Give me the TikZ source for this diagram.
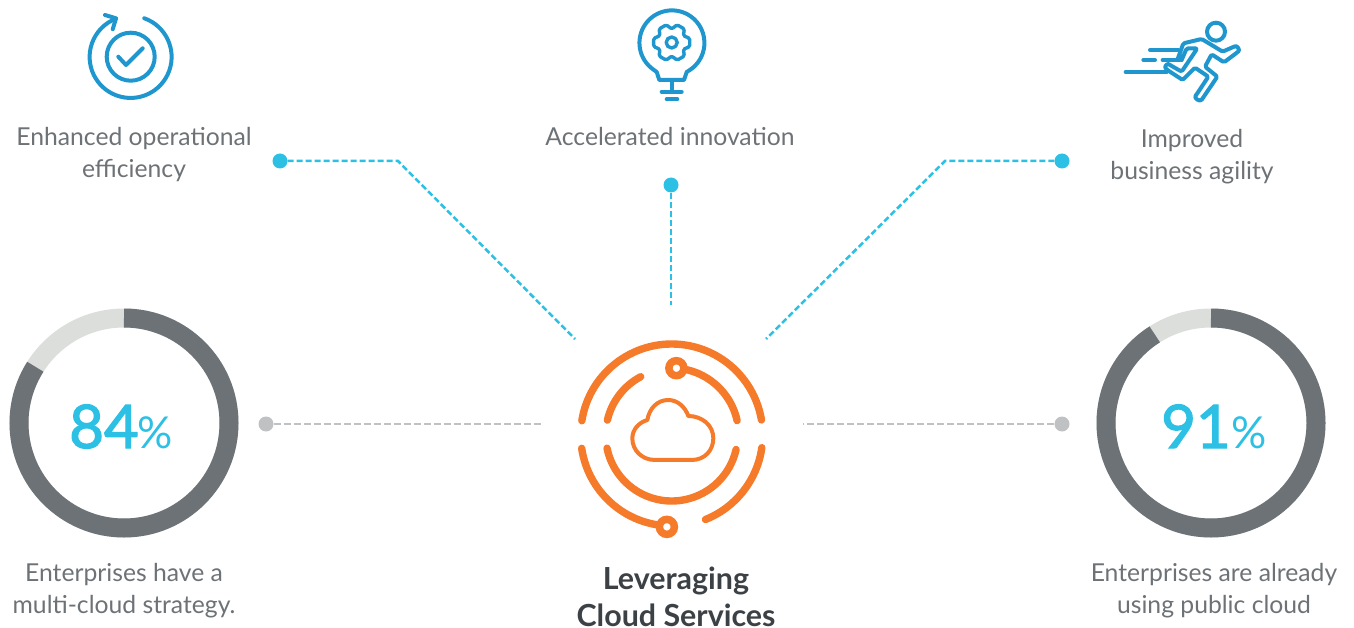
\documentclass[tikz,border=0pt]{standalone}
\usepackage{fontspec}
\setmainfont{Lato}
\newfontfamily\numfont[FakeBold=2]{Lato}
\definecolor{ibl}{HTML}{1F97CE}
\definecolor{cyn}{HTML}{2BC0E4}
\definecolor{org}{HTML}{F57A29}
\definecolor{rgr}{HTML}{6D7276}
\definecolor{rlt}{HTML}{DCDEDC}
\definecolor{dgr}{HTML}{BFC1C3}
\definecolor{txt}{HTML}{6D7276}
\definecolor{ttl}{HTML}{3C4145}
\tikzset{
 x=1pt,y=1pt,
 icon/.style={draw=ibl,line width=4pt,line cap=round,line join=round},
 iconthin/.style={draw=ibl,line width=3.4pt,line cap=round,line join=round},
 cloudline/.style={draw=org,line width=7.4pt,line cap=round},
 lbl/.style={text=txt,font=\fontsize{24.7}{32}\selectfont,align=center,inner sep=0pt},
 ttlb/.style={text=ttl,font=\fontsize{30.4}{37}\selectfont\bfseries,align=center,inner sep=0pt},
 bignum/.style={text=cyn,inner sep=0pt,font=\numfont\fontsize{60}{60}\selectfont},
 pct/.style={text=cyn,inner sep=0pt,font=\fontsize{44}{44}\selectfont},
 dotc/.style={circle,fill=cyn,minimum size=15pt,inner sep=0pt},
 dotg/.style={circle,fill=dgr,minimum size=15pt,inner sep=0pt},
 cdash/.style={draw=cyn,line width=2.5pt,dash pattern=on 6pt off 3pt},
 gdash/.style={draw=dgr,line width=2.5pt,dash pattern=on 7pt off 3pt},
 pcirc/.style={circle,draw=org,line width=7.5pt,fill=white,minimum size=15pt,inner sep=0pt},
}
\begin{document}
\begin{tikzpicture}
\useasboundingbox (0,-628) rectangle (1354,0);
% rings
\draw[rlt,line width=19pt] (124,-423) circle[radius=105];
\draw[rgr,line width=19pt] (124,-318) arc[start angle=90,end angle=-212.4,radius=105];
\draw[rlt,line width=19pt] (1211,-423) circle[radius=105];
\draw[rgr,line width=19pt] (1211,-318) arc[start angle=90,end angle=-237.6,radius=105];
\node[bignum,anchor=base east] (n84) at (139,-448) {84};
\node[pct,anchor=base west] (p84) at (137,-448) {\%};
\node[bignum,anchor=base east] (n91) at (1231,-448) {91};
\node[pct,anchor=base west] (p91) at (1231,-448) {\%};
% labels
\node[lbl] (l1) at (134,-155) {Enhanced operational\\efficiency};
\node[lbl] (l2) at (670,-137) {Accelerated innovation};
\node[lbl] (l3) at (1192,-157) {Improved\\business agility};
\node[lbl] (l4) at (124,-591) {Enterprises have a\\multi-cloud strategy.};
\node[lbl] (l5) at (1214,-591) {Enterprises are already\\using public cloud};
\node[ttlb] (t) at (676,-597) {Leveraging\\Cloud Services};
% connectors
\node[dotc] (d1) at (280,-161) {};
\node[dotc] (d2) at (671,-185) {};
\node[dotc] (d3) at (1062,-161) {};
\node[dotg] (d4) at (266,-424) {};
\node[dotg] (d5) at (1062,-424) {};
\coordinate (e1) at (575,-339);
\coordinate (e2) at (671,-305);
\coordinate (e3) at (766,-339);
\coordinate (e4) at (541,-424);
\coordinate (e5) at (803,-424);
\draw[cdash] (d1) -- (398,-161) -- (e1);
\draw[cdash] (d2) -- (e2);
\draw[cdash] (d3) -- (945,-161) -- (e3);
\draw[gdash] (d4.east) -- (e4);
\draw[gdash] (d5.west) -- (e5);
% cloud icon
\def\cx{671.7}\def\cy{-435}
\begin{scope}[shift={(\cx pt,\cy pt)}]
\draw[cloudline] (171:91) arc[start angle=171,end angle=9.5,radius=91];
\draw[cloudline] (188.4:91) arc[start angle=188.4,end angle=267,radius=91];
\draw[cloudline] (-8:91) arc[start angle=-8,end angle=-68.2,radius=91];
\draw[cloudline] (167:66) arc[start angle=167,end angle=118,radius=66];
\draw[cloudline] (86:67) arc[start angle=86,end angle=12.4,radius=67];
\draw[cloudline] (191.5:66) arc[start angle=191.5,end angle=347.3,radius=66];
\node[pcirc] (pt) at (86:67) {};
\node[pcirc] (pb) at (267:92) {};
\end{scope}
\begin{scope}[shift={(560pt,-330pt)},x=0.3333pt,y=-0.3333pt]
\draw[org,line width=4pt,line join=round]
 (285,390) -- (395,390)
 .. controls (435,390) and (460,360) .. (460,325)
 .. controls (460,285) and (425,258) .. (385,258)
 .. controls (375,230) and (352,210) .. (325,210)
 .. controls (292,210) and (268,235) .. (262,270)
 .. controls (235,278) and (217,300) .. (217,325)
 .. controls (217,362) and (247,390) .. (285,390) -- cycle;
\end{scope}
% check icon
\draw[icon] (144.3,-18.3) arc[start angle=70.5,end angle=-249,radius=41];
\draw[icon] (105,-15) -- (116,-18.3) -- (112.7,-29.3);
\draw[icon] (130.7,-56.7) circle[radius=24];
\draw[icon] (118.3,-56.7) -- (126,-65) -- (142.7,-48.3);
% bulb icon
\draw[icon] (659.3,-80) -- (656.7,-72) -- (653.3,-69.5) arc[start angle=235,end angle=-55,radius=32.5] -- (686.7,-72) -- (684,-80) -- cycle;
\draw[icon] (671.7,-80) -- (671.7,-91.7);
\draw[icon] (661.7,-91.7) -- (681.7,-91.7);
\draw[icon] (666.7,-99.3) -- (677.3,-99.3);
\begin{scope}[shift={(671.7pt,-42.5pt)}]
\draw[iconthin] (0,0) circle[radius=5.5];
\draw[iconthin,rounded corners=1.5pt] (-13:18.5) -- (13:18.5) -- (30:13.5) -- (47:18.5) -- (73:18.5) -- (90:13.5) -- (107:18.5) -- (133:18.5) -- (150:13.5) -- (167:18.5) -- (193:18.5) -- (210:13.5) -- (227:18.5) -- (253:18.5) -- (270:13.5) -- (287:18.5) -- (313:18.5) -- (330:13.5) -- cycle;
\end{scope}
% runner
\draw[icon] (1216,-31.7) circle[radius=9];
\begin{scope}[shift={(1160pt,-15pt)},x=0.3333pt,y=-0.3333pt]
\draw[icon,rounded corners=1.5pt]
 (52,135) -- (70,85) -- (125,72) -- (188,110) -- (222,95)
 .. controls (232,92) and (240,105) .. (232,112)
 -- (192,142) -- (155,118) -- (135,155) -- (172,185) -- (128,250)
 .. controls (120,262) and (100,250) .. (110,238)
 -- (145,185) -- (105,158) -- (68,195) -- (22,165)
 .. controls (10,155) and (22,145) .. (30,150)
 -- (65,170) -- (112,100) -- (80,100) -- (65,135);
\end{scope}
\begin{scope}[shift={(1110pt,-10pt)},x=0.3333pt,y=-0.3333pt]
\draw[icon] (120,120) -- (205,120);
\draw[icon] (100,150) -- (135,150);
\draw[icon] (158,150) -- (210,150);
\draw[icon] (47,186) -- (170,186);
\end{scope}
\end{tikzpicture}
\end{document}
